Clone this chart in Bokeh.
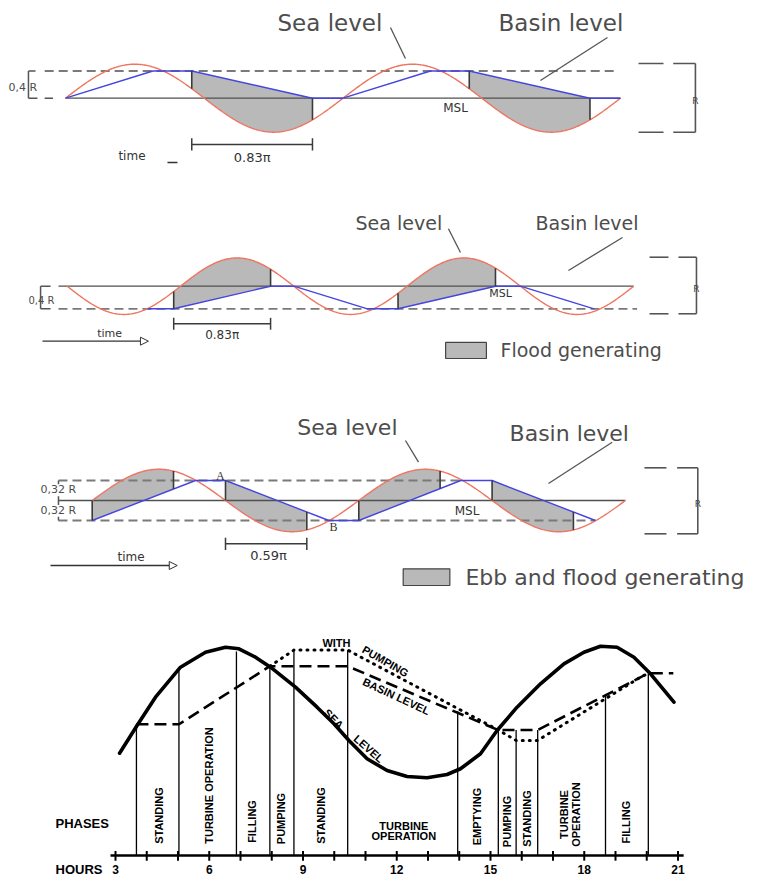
import numpy as np
from bokeh.plotting import figure
from bokeh.models import Range1d, Arrow, NormalHead
from bokeh.core.properties import value
from bokeh.embed import file_html
from bokeh.resources import INLINE

# ======================= DATA =======================
SEA_AMP = 0.5            # sea level amplitude, in units of the tidal range R

# Panel 1 - ebb generation (time in units of pi rad, level in R)
P1_SEA_END = 4.0
P1_SEA_SIGN = 1
P1_BASIN_T = [0, 0.63, 0.91, 1.78, 2.0, 2.63, 2.91, 3.78, 4.0]
P1_BASIN_LVL = [0, 0.4, 0.4, 0, 0, 0.4, 0.4, 0, 0]
P1_GEN = [(0.91, 1.78), (2.91, 3.78)]
P1_HEAD = [0.4]
P1_HEAD_LABEL = "0,4 R"
P1_DIM_LABEL = "0.83π"

# Panel 2 - flood generation
P2_SEA_END = 5.0
P2_SEA_SIGN = -1
P2_BASIN_T = [0.71, 0.94, 1.795, 2.0, 2.65, 2.92, 3.78, 4.0, 4.65]
P2_BASIN_LVL = [-0.4, -0.4, 0, 0, -0.4, -0.4, 0, 0, -0.4]
P2_GEN = [(0.94, 1.795), (2.92, 3.78)]
P2_HEAD = [-0.4]
P2_HEAD_LABEL = "0,4 R"
P2_DIM_LABEL = "0.83π"
P2_LEGEND = "Flood generating"

# Panel 3 - two-way generation
P3_SEA_END = 4.0
P3_SEA_SIGN = 1
P3_BASIN_T = [0, 0.775, 1.0, 1.775, 2.0, 2.765, 3.0, 3.775]
P3_BASIN_LVL = [-0.32, 0.32, 0.32, -0.32, -0.32, 0.32, 0.32, -0.32]
P3_GEN = [(0.0, 0.61), (1.0, 1.61), (2.0, 2.61), (3.0, 3.61)]
P3_HEAD = [0.32, -0.32]
P3_HEAD_LABEL = "0,32 R"
P3_DIM_LABEL = "0.59π"
P3_LEGEND = "Ebb and flood generating"

# Panel 4 - operating cycle with pumping (hours, relative level)
SEA_HOURS = [3.13, 3.69, 4.28, 5.08, 5.88, 6.52, 6.95, 7.48, 7.96, 8.76, 9.45, 9.99,
             10.47, 11.05, 11.69, 12.33, 12.97, 13.61, 14.04, 14.68, 15.21, 15.85,
             16.60, 17.35, 17.99, 18.52, 19.05, 19.59, 20.12, 20.87]
SEA_LEVEL = [-0.619, -0.189, 0.250, 0.715, 0.947, 1.025, 1.0, 0.870, 0.715, 0.405, 0.095,
             -0.163, -0.422, -0.705, -0.887, -0.980, -1.0, -0.949, -0.860, -0.628, -0.267,
             0.095, 0.457, 0.767, 0.947, 1.040, 1.025, 0.870, 0.612, 0.172]
BASIN_HOURS = [3.67, 5.03, 7.94, 10.43, 15.25, 16.51, 20.05, 20.85]
BASIN_LEVEL = [-0.17, -0.17, 0.73, 0.73, -0.26, -0.26, 0.62, 0.62]
PUMP_HOURS = [7.94, 8.71, 10.43, 15.25, 15.82, 16.51, 19.8, 20.05]
PUMP_LEVEL = [0.73, 0.98, 0.98, -0.26, -0.42, -0.42, 0.56, 0.62]
PHASE_HOURS = [3.67, 5.03, 6.87, 7.94, 8.71, 10.43, 13.95, 15.25, 15.82, 16.51, 18.68, 20.05]
PHASE_TOP = [-0.17, 0.71, 0.96, 0.72, 0.98, 0.98, 0.03, -0.26, -0.26, -0.26, 0.29, 0.62]
PHASE_NAMES = ["STANDING", "TURBINE OPERATION", "FILLING", "PUMPING", "STANDING",
               "EMPTYING", "PUMPING", "STANDING", "FILLING"]
PHASE_NAME_H = [4.386, 5.986, 7.374, 8.28, 9.56, 14.574, 15.512, 16.152, 19.32]
PHASE_NAME_L = [-1.585, -1.119, -1.677, -1.631, -1.585, -1.60, -1.677, -1.631, -1.688]
HOUR_TICKS = list(range(3, 22))
HOUR_LABEL_TICKS = [3, 6, 9, 12, 15, 18, 21]
HOUR_LABELS = ["3", "6", "9", "12", "15", "18", "21"]

# ======================= STYLE =======================
RED = "#ee7560"
BLUE = "#4545e0"
GRAY_FILL = "#b9b9b9"
DASH_COL = "#7a7a7a"
DARK = "#3a3a3a"
TXT = "#4d4d4d"
FONT = "DejaVu Sans"
BFONT = "Liberation Sans"

W, H = 771, 878
p = figure(width=W, height=H, x_range=Range1d(0, W), y_range=Range1d(0, H),
           output_backend="svg", toolbar_location=None, min_border=0,
           x_axis_type=None, y_axis_type=None, outline_line_color=None,
           background_fill_color="white", border_fill_color="white")
p.grid.visible = False


def add_ranges(name, d0, X0, S, Y0, T):
    """Map data value d0 to picture pixel X0 (S px per unit), level 0 to pixel row Y0 (T px per unit)."""
    xs = d0 - X0 / S
    ye = Y0 / T
    p.extra_x_ranges[name] = Range1d(xs, xs + W / S)
    p.extra_y_ranges[name] = Range1d(ye - H / T, ye)


add_ranges("p1", 0, 65.0, 138.75, 97.7, 68.0)
add_ranges("p2", 0, 66.7, 113.3, 285.7, 56.5)
add_ranges("p3", 0, 91.7, 133.3, 500.0, 62.5)
add_ranges("p4", 3, 115.0, 31.25, 712.8, 64.5)


def R(name):
    return dict(x_range_name=name, y_range_name=name)


def txt(name, x, y, s, size, font=FONT, color=TXT, align="left", baseline="middle",
        angle=0.0, bold=False):
    p.text(x=[x], y=[y], text=[s], text_font=value(font), text_font_size=value(size),
           text_color=color, text_align=align, text_baseline=baseline, angle=angle,
           text_font_style="bold" if bold else "normal", **R(name))


def seg(name, x0, y0, x1, y1, color=DARK, width=1.3, dash="solid"):
    p.segment(x0=x0, y0=y0, x1=x1, y1=y1, line_color=color, line_width=width,
              line_dash=dash, **R(name))


def tidal_panel(name, sea_end, sign, bt, bl, gen, heads, dash_x, msl_x):
    sea = lambda t: sign * SEA_AMP * np.sin(np.pi * np.asarray(t))
    basin = lambda t: np.interp(t, bt, bl)
    # generating areas
    for a, b in gen:
        ts = np.linspace(a, b, 120)
        xs = np.concatenate([ts, ts[::-1]])
        ys = np.concatenate([sea(ts), basin(ts[::-1])])
        p.patch(xs, ys, fill_color=GRAY_FILL, line_color=None, **R(name))
    # dashed head levels
    for lvl, (x0, x1) in zip(heads, dash_x):
        seg(name, [x0], [lvl], [x1], [lvl], color=DASH_COL, width=1.8, dash="9 5")
    # mean sea level
    seg(name, [msl_x[0]], [0], [msl_x[1]], [0], color="#505050", width=1.3)
    ts = np.linspace(0, sea_end, 500)
    p.line(ts, sea(ts), line_color=RED, line_width=1.4, **R(name))
    p.line(bt, bl, line_color=BLUE, line_width=1.4, **R(name))
    for a, b in gen:
        for t in (a, b):
            seg(name, [t], [float(basin(t))], [t], [float(sea(t))], color=DARK, width=1.6)


def r_bracket(name, xa, xb, xc, xd, top, bot, ylab):
    seg(name, [xa, xc, xd, xa, xc], [top, top, top, bot, bot],
        [xb, xd, xd, xb, xd], [top, top, bot, bot, bot], color="#555555", width=1.6)
    txt(name, xd, ylab, "R", "9px", align="center", color="#444444")


# ---------------- Panel 1 ----------------
tidal_panel("p1", P1_SEA_END, P1_SEA_SIGN, P1_BASIN_T, P1_BASIN_LVL, P1_GEN,
            P1_HEAD, [(-0.15, 3.98)], (0, 4.0))
seg("p1", [-0.216, -0.267, -0.267, -0.15], [0.4, 0.4, 0, 0],
    [-0.267, -0.267, -0.202, -0.09], [0.4, 0, 0, 0], color="#555555", width=1.5)
txt("p1", -0.411, 0.157, P1_HEAD_LABEL, "11px")
r_bracket("p1", 4.13, 4.31, 4.38, 4.54, 0.51, -0.5, -0.034)
txt("p1", 1.528, 1.099, "Sea level", "23px")
txt("p1", 3.121, 1.099, "Basin level", "23px")
seg("p1", [2.342, 3.906], [1.04, 0.893], [2.45, 3.423], [0.584, 0.26], color="#555555", width=1.3)
txt("p1", 2.811, -0.137, "MSL", "12px", align="center", color="#333333")
a, b = P1_GEN[0]
seg("p1", [a, a, b], [-0.68, -0.77, -0.77], [b, a, b], [-0.68, -0.59, -0.59], color=DARK, width=1.5)
txt("p1", (a + b) / 2, -0.872, P1_DIM_LABEL, "13px", align="center", color="#333333")
txt("p1", 0.479, -0.843, "time", "12px", align="center", color="#333333")
seg("p1", [0.735], [-0.946], [0.807], [-0.946], color="#333333", width=1.5)

# ---------------- Panel 2 ----------------
tidal_panel("p2", P2_SEA_END, P2_SEA_SIGN, P2_BASIN_T, P2_BASIN_LVL, P2_GEN,
            P2_HEAD, [(-0.077, 5.03)], (-0.077, 5.0))
seg("p2", [-0.147, -0.235, -0.235], [0, 0, -0.4], [-0.235, -0.235, -0.147], [0, -0.4, -0.4],
    color="#555555", width=1.5)
txt("p2", -0.342, -0.253, P2_HEAD_LABEL, "10px")
r_bracket("p2", 5.14, 5.307, 5.395, 5.554, 0.513, -0.488, -0.041)
txt("p2", 2.545, 1.127, "Sea level", "19px")
txt("p2", 4.133, 1.127, "Basin level", "19px")
seg("p2", [3.365, 4.901], [1.018, 0.862], [3.471, 4.424], [0.596, 0.278], color="#555555", width=1.3)
txt("p2", 3.825, -0.129, "MSL", "11px", align="center", color="#333333")
a, b = P2_GEN[0]
seg("p2", [a, a, b], [-0.665, -0.77, -0.77], [b, a, b], [-0.665, -0.56, -0.56], color=DARK, width=1.5)
txt("p2", (a + b) / 2, -0.855, P2_DIM_LABEL, "12px", align="center", color="#333333")
txt("p2", 0.374, -0.835, "time", "11px", align="center", color="#333333")
p.add_layout(Arrow(end=NormalHead(size=8, fill_color="white", line_color="#333333", line_width=1),
                   x_start=-0.218, y_start=-0.973, x_end=0.717, y_end=-0.973,
                   line_color="#333333", line_width=1.3, **R("p2")))
p.quad(left=[3.34], right=[3.70], top=[-0.996], bottom=[-1.28], fill_color=GRAY_FILL,
       line_color="#444444", line_width=1.2, **R("p2"))
txt("p2", 3.824, -1.126, P2_LEGEND, "19px")

# ---------------- Panel 3 ----------------
tidal_panel("p3", P3_SEA_END, P3_SEA_SIGN, P3_BASIN_T, P3_BASIN_LVL, P3_GEN,
            P3_HEAD, [(-0.253, 2.77), (-0.253, 3.775)], (-0.253, 4.0))
seg("p3", [-0.253, -0.253, -0.253], [0.32, 0.07, -0.26], [-0.253, -0.253, -0.253],
    [0.26, -0.07, -0.32], color="#555555", width=1.5)
txt("p3", -0.388, 0.171, P3_HEAD_LABEL, "11px")
txt("p3", -0.388, -0.16, P3_HEAD_LABEL, "11px")
r_bracket("p3", 4.143, 4.308, 4.388, 4.543, 0.523, -0.533, -0.048)
txt("p3", 1.538, 1.17, "Sea level", "22px")
txt("p3", 3.131, 1.072, "Basin level", "22px")
seg("p3", [2.35, 3.901], [0.96, 0.933], [2.448, 3.423], [0.613, 0.272], color="#555555", width=1.3)
txt("p3", 2.812, -0.16, "MSL", "12px", align="center", color="#333333")
txt("p3", 0.962, 0.40, "A", "12px", align="center", color="#333333", font="Liberation Serif")
txt("p3", 1.811, -0.427, "B", "12px", align="center", color="#333333", font="Liberation Serif")
a, b = P3_GEN[1]
seg("p3", [a, a, b], [-0.693, -0.79, -0.79], [b, a, b], [-0.693, -0.597, -0.597], color=DARK, width=1.5)
txt("p3", (a + b) / 2 + 0.018, -0.88, P3_DIM_LABEL, "13px", align="center", color="#333333")
txt("p3", 0.291, -0.907, "time", "12px", align="center", color="#333333")
p.add_layout(Arrow(end=NormalHead(size=8, fill_color="white", line_color="#333333", line_width=1),
                   x_start=-0.313, y_start=-1.04, x_end=0.638, y_end=-1.04,
                   line_color="#333333", line_width=1.3, **R("p3")))
p.quad(left=[2.333], right=[2.683], top=[-1.093], bottom=[-1.36], fill_color=GRAY_FILL,
       line_color="#444444", line_width=1.2, **R("p3"))
txt("p3", 2.8, -1.232, P3_LEGEND, "22px")

# ---------------- Panel 4 ----------------
AXIS_L = -2.205
p.segment(x0=PHASE_HOURS, y0=[AXIS_L] * len(PHASE_HOURS), x1=PHASE_HOURS, y1=PHASE_TOP,
          line_color="black", line_width=1.3, **R("p4"))
p.line(PUMP_HOURS, PUMP_LEVEL, line_color="black", line_width=3, line_dash="1 6",
       line_cap="round", **R("p4"))
p.line(BASIN_HOURS, BASIN_LEVEL, line_color="black", line_width=2.6, line_dash="12 6", **R("p4"))
p.line(SEA_HOURS, SEA_LEVEL, line_color="black", line_width=3.6, line_join="round",
       line_cap="round", **R("p4"))
# hours axis
seg("p4", [2.84], [AXIS_L], [21.18], [AXIS_L], color="black", width=2.6)
p.segment(x0=HOUR_TICKS, y0=[AXIS_L + 0.07] * len(HOUR_TICKS), x1=HOUR_TICKS,
          y1=[AXIS_L - 0.08] * len(HOUR_TICKS), line_color="black", line_width=2, **R("p4"))
p.text(x=HOUR_LABEL_TICKS, y=[-2.42] * len(HOUR_LABEL_TICKS), text=HOUR_LABELS,
       text_font=value(BFONT), text_font_size=value("12px"), text_font_style="bold",
       text_align="center", text_baseline="middle", text_color="black", **R("p4"))
txt("p4", 1.08, -2.42, "HOURS", "13px", font=BFONT, color="black", bold=True)
txt("p4", 1.08, -1.713, "PHASES", "13px", font=BFONT, color="black", bold=True)
for name, h, l in zip(PHASE_NAMES, PHASE_NAME_H, PHASE_NAME_L):
    txt("p4", h, l, name, "11px", font=BFONT, color="black", align="center",
        angle=np.pi / 2, bold=True)
txt("p4", 12.226, -1.740, "TURBINE", "11px", font=BFONT, color="black", align="center", bold=True)
txt("p4", 12.226, -1.910, "OPERATION", "11px", font=BFONT, color="black", align="center", bold=True)
txt("p4", 17.346, -1.569, "TURBINE", "11px", font=BFONT, color="black", align="center",
    angle=np.pi / 2, bold=True)
txt("p4", 17.72, -1.569, "OPERATION", "11px", font=BFONT, color="black", align="center",
    angle=np.pi / 2, bold=True)
# curve labels
txt("p4", 9.986, -0.085, "SEA", "11px", font=BFONT, color="black", align="center",
    angle=-0.80, bold=True)
txt("p4", 11.106, -0.55, "LEVEL", "11px", font=BFONT, color="black", align="center",
    angle=-0.72, bold=True)
txt("p4", 11.986, 0.264, "BASIN LEVEL", "11px", font=BFONT, color="black", align="center",
    angle=-0.435, bold=True)
txt("p4", 11.64, 0.806, "PUMPING", "11px", font=BFONT, color="black", align="center",
    angle=-0.52, bold=True)
txt("p4", 10.07, 1.095, "WITH", "11px", font=BFONT, color="black", align="center", bold=True)

open("out.html", "w").write(file_html(p, INLINE))
